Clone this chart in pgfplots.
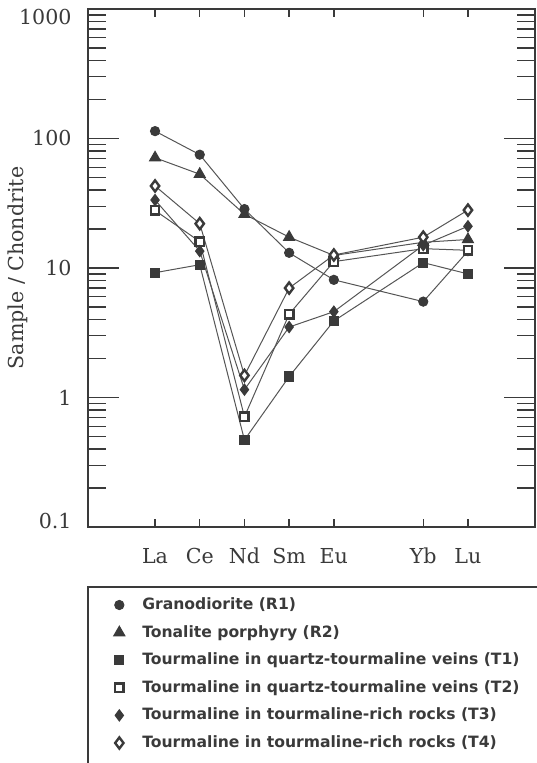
\documentclass[border=0pt]{standalone}
\usepackage{pgfplots}
\pgfplotsset{compat=1.18}
\usepackage{fontspec}
\setmainfont{DejaVu Serif}
\newfontfamily\legfont{DejaVu Sans}
\definecolor{ink}{HTML}{3A3A3A}
\definecolor{lin}{HTML}{555555}
\begin{document}
\begin{tikzpicture}[x=1pt,y=1pt]
\begin{axis}[
  at={(44pt,118pt)}, anchor=south west,
  scale only axis, width=223.5pt, height=259pt,
  ymode=log, ymin=0.1, ymax=1000, xmin=-1.5, xmax=8.5,
  xtick={0,1,2,3,4,6,7}, xticklabels={La,Ce,Nd,Sm,Eu,Yb,Lu},
  ytick={0.1,1,10,100,1000},
  yticklabels={\raisebox{3pt}[\height][\depth]{0.1},1,10,100,\raisebox{-4.25pt}[\height][\depth]{1000}},
  minor ytick={0.2,0.3,0.4,0.5,0.6,0.7,0.8,0.9,2,3,4,5,6,7,8,9,20,30,40,50,60,70,80,90,200,300,400,500,600,700,800,900},
  tick align=inside, tick pos=both,
  major tick length=15.5pt, minor tick length=9pt,
  xtick style={/pgfplots/major tick length=4pt},
  axis line style={line width=1pt, draw=ink},
  tick style={line width=0.7pt, draw=ink},
  ticklabel style={font=\fontsize{10.3}{12}\selectfont, text=ink},
  xticklabel style={text height=7.5pt, text depth=0pt, yshift=-7.2pt},
  yticklabel style={xshift=-4.7pt},
  ylabel={Sample / Chondrite},
  ylabel style={at={(axis description cs:-0.1566,0.5)}, anchor=center, font=\fontsize{10.3}{12}\selectfont, text=ink},
  legend image code/.code={\draw[#1, only marks] plot coordinates {(0pt,0pt)};},
  legend cell align=left,
  legend style={draw=none, fill=none, at={(axis description cs:0.0568,-0.2838)}, anchor=west,
    inner sep=0pt, column sep=8.7pt, row sep=6.3pt,
    font=\legfont\bfseries\fontsize{7.8}{9}\selectfont, text=ink,
    nodes={inner sep=0pt, text height=6pt, text depth=1.5pt}},
  every axis plot/.append style={line width=0.5pt, draw=lin},
]
\addplot[mark=*, mark size=2.3pt, mark options={fill=ink, draw=ink, line width=0.5pt}]
  coordinates {(0,114) (1,75) (2,28.5) (3,13.1) (4,8.1) (6,5.5) (7,13.5)};
\addlegendentry{Granodiorite (R1)}
\addplot[mark=triangle*, mark size=3.2pt, mark options={fill=ink, draw=ink, line width=0.5pt}]
  coordinates {(0,71) (1,53) (2,26) (3,17.3) (4,12.5) (6,15.8) (7,16.6)};
\addlegendentry{Tonalite porphyry (R2)}
\addplot[mark=square*, mark size=2.3pt, mark options={fill=ink, draw=ink, line width=0.5pt}]
  coordinates {(0,9.2) (1,10.6) (2,0.47) (3,1.45) (4,3.9) (6,11.0) (7,9.0)};
\addlegendentry{Tourmaline in quartz-tourmaline veins (T1)}
\addplot[mark=square*, mark size=2.1pt, mark options={fill=white, draw=ink, line width=1.2pt}]
  coordinates {(0,27.8) (1,16) (2,0.71) (3,4.4) (4,11.2) (6,14.1) (7,13.7)};
\addlegendentry{Tourmaline in quartz-tourmaline veins (T2)}
\addplot[mark=diamond*, mark size=2.8pt, mark options={fill=ink, draw=ink, line width=0.5pt}]
  coordinates {(0,33.5) (1,13.5) (2,1.15) (3,3.5) (4,4.6) (6,15.0) (7,21)};
\addlegendentry{Tourmaline in tourmaline-rich rocks (T3)}
\addplot[mark=diamond*, mark size=2.8pt, mark options={fill=white, draw=ink, line width=1.2pt}]
  coordinates {(0,43) (1,22) (2,1.48) (3,7.0) (4,12.6) (6,17.3) (7,28)};
\addlegendentry{Tourmaline in tourmaline-rich rocks (T4)}
\end{axis}
\draw[line width=0.9pt, draw=ink] (44pt,-60pt) -- (44pt,88pt) -- (620pt,88pt);
\pgfresetboundingbox
\path[use as bounding box] (0,0) rectangle (268pt,381.5pt);
\end{tikzpicture}
\end{document}
